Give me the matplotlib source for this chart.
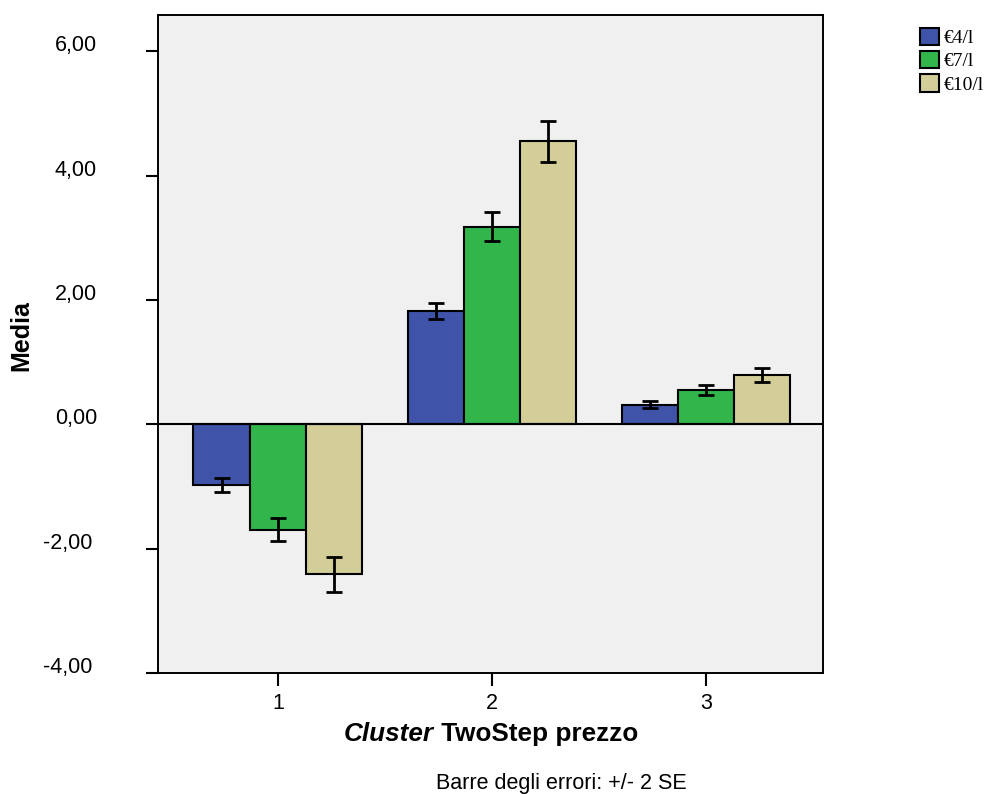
import matplotlib
matplotlib.use("Agg")
import matplotlib.pyplot as plt
from matplotlib.patches import Patch
from matplotlib.offsetbox import TextArea, HPacker, AnchoredOffsetbox
from matplotlib.transforms import ScaledTranslation
import numpy as np

plt.rcParams['font.family'] = ['Liberation Sans', 'DejaVu Sans']

clusters = ["1", "2", "3"]
series = ["€4/l", "€7/l", "€10/l"]
means = {
    "€4/l": [-0.97, 1.83, 0.32],
    "€7/l": [-1.69, 3.18, 0.56],
    "€10/l": [-2.41, 4.55, 0.80],
}
errors = {
    "€4/l": [0.11, 0.13, 0.05],
    "€7/l": [0.19, 0.23, 0.08],
    "€10/l": [0.28, 0.33, 0.11],
}
colors = ["#3F54A8", "#32B54A", "#D3CE97"]
yticks = [-4, -2, 0, 2, 4, 6]
ytick_labels = ["-4,00", "-2,00", "0,00", "2,00", "4,00", "6,00"]

fig = plt.figure(figsize=(9.88, 7.94), dpi=100)
ax = fig.add_axes([0.160, 0.152, 0.673, 0.829])
ax.set_facecolor("#F0F0F0")

x = np.arange(1, len(clusters) + 1)
width = 0.263
for i, (name, col) in enumerate(zip(series, colors)):
    pos = x + (i - 1) * width
    ax.bar(pos, means[name], width=width, color=col, edgecolor="black",
           linewidth=1.5, zorder=2)
    ax.errorbar(pos, means[name], yerr=errors[name], fmt="none",
                ecolor="black", elinewidth=2, capsize=5.8, capthick=2,
                zorder=3)

ax.axhline(0, color="black", linewidth=1.5, zorder=2.5)
ax.set_xlim(0.44, 3.547)
ax.set_ylim(-4.0, 6.58)
ax.set_yticks(yticks)
ax.set_yticklabels(ytick_labels, fontsize=15.5)
ax.set_xticks(x)
ax.set_xticklabels(clusters, fontsize=15.5)
ax.tick_params(direction="out", length=9, width=1.5)
ax.tick_params(axis="x", pad=5)
ax.tick_params(axis="y", pad=35)
for s in ax.spines.values():
    s.set_linewidth(1.4)

# y tick labels sit slightly above their ticks; negative ones a bit further left
for tick, lab in zip(ax.yaxis.get_major_ticks(), ytick_labels):
    dx = -0.05 if lab.startswith("-") else 0.0
    tick.label1.set_transform(tick.label1.get_transform() +
                              ScaledTranslation(dx, 0.08, fig.dpi_scale_trans))

# y-axis title
fig.text(0.022, 0.578, "Media", fontsize=18, fontweight="bold",
         rotation=90, ha="center", va="center")

# x-axis title: italic "Cluster" followed by upright bold text
part1 = TextArea("Cluster", textprops=dict(fontsize=18.8, fontweight="bold",
                                            fontstyle="italic"))
part2 = TextArea(" TwoStep prezzo", textprops=dict(fontsize=18.8,
                                                    fontweight="bold"))
xlabel_box = HPacker(children=[part1, part2], align="baseline", pad=0, sep=0)
anchored = AnchoredOffsetbox(loc="center", child=xlabel_box, pad=0,
                             borderpad=0, frameon=False,
                             bbox_to_anchor=(0.497, 0.076),
                             bbox_transform=fig.transFigure)
fig.add_artist(anchored)

fig.text(0.568, 0.013, "Barre degli errori: +/- 2 SE", fontsize=15.5,
         ha="center", va="center")

handles = [Patch(facecolor=c, edgecolor="black", linewidth=1.5) for c in colors]
fig.legend(handles, series, loc="upper left", bbox_to_anchor=(0.931, 0.965),
           frameon=False, prop={"family": "Liberation Serif", "size": 14},
           handlelength=1.0, handleheight=1.0, handletextpad=0.25,
           labelspacing=0.2, borderaxespad=0, borderpad=0)

fig.savefig("out.png", dpi=100)
